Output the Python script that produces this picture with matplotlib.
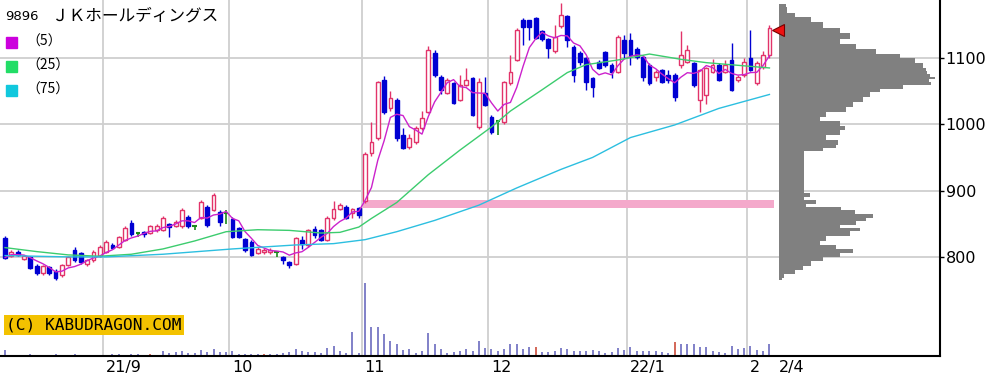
import matplotlib
matplotlib.use('Agg')
import matplotlib.pyplot as plt
from matplotlib.patches import Rectangle
import numpy as np
import pandas as pd

# daily candles, 2021-08-10 .. 2022-02-04 (trading days), yen
opens = [828, 802, 808, 797, 800, 787, 775, 784, 779, 772,
         788, 810, 806, 789, 795, 802, 808, 818, 815, 826,
         851, 836, 838, 836, 840, 841, 850, 847, 846, 860,
         846, 859, 876, 871, 868, 866, 857, 843, 827, 823,
         806, 807, 807, 807, 800, 792, 790, 826, 818, 842,
         840, 826, 858, 872, 876, 866, 874, 884, 957, 979,
         1067, 1025, 1037, 984, 966, 973, 994, 1019, 1107, 1072,
         1047, 1062, 1037, 1060, 1070, 996, 1047, 1011, 1005, 1003,
         1062, 1097, 1157, 1157, 1160, 1140, 1128, 1110, 1148, 1163,
         1117, 1107, 1100, 1070, 1094, 1109, 1090, 1079, 1127, 1127,
         1113, 1102, 1090, 1072, 1082, 1075, 1075, 1089, 1094, 1092,
         1037, 1044, 1079, 1090, 1079, 1097, 1067, 1074, 1100, 1062,
         1086, 1104]
highs = [832, 810, 810, 803, 802, 790, 788, 786, 781, 790,
         802, 815, 808, 797, 810, 818, 826, 821, 832, 846,
         856, 837, 839, 848, 849, 862, 851, 855, 873, 863,
         848, 886, 879, 896, 870, 870, 860, 845, 829, 825,
         815, 814, 814, 809, 802, 794, 830, 832, 842, 846,
         842, 862, 885, 882, 878, 874, 876, 958, 1004, 1066,
         1073, 1050, 1040, 995, 985, 998, 1020, 1118, 1112, 1074,
         1070, 1064, 1075, 1085, 1072, 1070, 1072, 1014, 1006, 1066,
         1105, 1145, 1160, 1158, 1162, 1142, 1130, 1150, 1183, 1165,
         1119, 1110, 1102, 1072, 1097, 1111, 1092, 1134, 1135, 1137,
         1116, 1104, 1092, 1082, 1084, 1082, 1077, 1140, 1120, 1094,
         1084, 1087, 1098, 1092, 1097, 1122, 1075, 1100, 1142, 1095,
         1110, 1150]
lows = [797, 800, 801, 795, 781, 772, 773, 773, 765, 770,
        786, 793, 790, 786, 793, 800, 806, 812, 813, 824,
        832, 830, 830, 834, 837, 839, 830, 845, 844, 844,
        840, 857, 845, 869, 846, 850, 828, 828, 808, 801,
        804, 805, 805, 800, 790, 783, 788, 812, 815, 829,
        824, 824, 856, 870, 857, 858, 858, 882, 952, 976,
        1015, 1020, 975, 962, 963, 971, 992, 1017, 1072, 1045,
        1045, 1030, 1035, 1058, 1012, 993, 1027, 985, 984, 1000,
        1060, 1095, 1120, 1127, 1128, 1126, 1100, 1108, 1146, 1117,
        1064, 1090, 1052, 1041, 1083, 1087, 1070, 1077, 1100, 1090,
        1099, 1065, 1060, 1066, 1062, 1063, 1035, 1085, 1092, 1057,
        1019, 1030, 1077, 1065, 1077, 1050, 1064, 1072, 1080, 1060,
        1084, 1100]
closes = [799, 808, 803, 801, 783, 775, 786, 775, 768, 788,
          800, 796, 793, 795, 808, 815, 822, 814, 830, 843,
          834, 836, 834, 846, 846, 859, 845, 852, 870, 846,
          846, 883, 848, 893, 853, 866, 830, 830, 811, 803,
          812, 811, 811, 807, 796, 788, 828, 820, 840, 833,
          826, 858, 872, 878, 859, 872, 863, 955, 974, 1064,
          1019, 1040, 979, 964, 980, 994, 1009, 1112, 1074, 1052,
          1067, 1032, 1059, 1067, 1014, 1064, 1029, 988, 1005, 1064,
          1079, 1142, 1147, 1147, 1130, 1128, 1115, 1132, 1165, 1127,
          1074, 1094, 1064, 1056, 1085, 1089, 1079, 1132, 1107, 1105,
          1101, 1072, 1062, 1079, 1064, 1067, 1041, 1105, 1112, 1059,
          1082, 1085, 1090, 1067, 1090, 1052, 1072, 1094, 1082, 1092,
          1104, 1145]
volumes = [60, 15, 15, 15, 20, 15, 15, 15, 20, 15,
           15, 20, 15, 15, 15, 15, 15, 20, 20, 15,
           20, 20, 15, 20, 15, 50, 30, 40, 50, 30,
           30, 60, 40, 70, 40, 40, 50, 20, 20, 20,
           20, 20, 20, 20, 30, 40, 70, 50, 40, 40,
           30, 80, 100, 50, 30, 240, 30, 730, 290, 290,
           220, 150, 120, 60, 70, 30, 50, 230, 120, 70,
           30, 40, 50, 70, 50, 150, 80, 70, 50, 70,
           120, 120, 70, 90, 90, 40, 40, 50, 80, 70,
           50, 50, 50, 60, 50, 30, 40, 80, 60, 90,
           50, 50, 50, 50, 40, 30, 140, 120, 120, 120,
           90, 90, 50, 40, 30, 100, 70, 80, 100, 60,
           50, 120]
red_volume_days = [23, 41, 84, 106]

# moving averages (day index, yen)
ma25_day = [0, 5, 10, 15, 20, 25, 30, 35, 40, 45, 50, 53, 56, 58, 62, 67, 72,
            77, 80, 85, 89, 92, 97, 102, 107, 111, 116, 121]
ma25_val = [814, 808, 803, 801, 804, 812, 824, 838, 841, 840, 836, 837, 845,
            858, 882, 924, 961, 996, 1020, 1052, 1078, 1090, 1097, 1106, 1098,
            1093, 1089, 1085]
ma75_day = [0, 10, 16, 25, 36, 46, 52, 57, 62, 68, 75, 81, 88, 93, 99, 106,
            113, 121]
ma75_val = [802, 800, 800, 804, 812, 818, 820, 826, 838, 855, 878, 904, 932,
            950, 980, 999, 1024, 1045]

month_labels = ['21/9', '10', '11', '12', '22/1', '2']
month_start = [16, 36, 57, 77, 99, 118]
last_label = '2/4'

# price-by-volume profile on the right
profile_price = [765, 770, 777, 783, 791, 798, 803, 808, 815, 821, 828, 836,
                 841, 845, 851, 856, 861, 868, 873, 878, 883, 888, 893, 900,
                 910, 920, 930, 940, 950, 957, 961, 966, 973, 981, 988, 994,
                 1002, 1009, 1014, 1022, 1029, 1037, 1044, 1052, 1056, 1062,
                 1066, 1070, 1074, 1078, 1082, 1089, 1097, 1102, 1109, 1117,
                 1124, 1132, 1142, 1150, 1160, 1165, 1172, 1182]
profile_vol = [3, 5, 16, 24, 32, 44, 61, 74, 57, 41, 47, 71,
               81, 61, 77, 87, 94, 76, 62, 27, 37, 25, 31, 25,
               25, 25, 25, 25, 25, 25, 44, 57, 59, 47, 61, 66,
               61, 41, 47, 67, 74, 84, 91, 101, 124, 152,
               150, 156, 151, 148, 147, 144, 136, 121, 97, 77,
               61, 71, 61, 44, 32, 16, 8, 7]

band_price = 880
band_start = 57

up_col = '#e2336a'
down_col = '#0000d2'
doji_col = '#1a8a1a'
grid_col = '#cfcfcf'

df = pd.DataFrame({'open': opens, 'high': highs, 'low': lows, 'close': closes})
n = len(df)
x = np.arange(n)
ma5 = df['close'].rolling(5, min_periods=1).mean()

fig = plt.figure(figsize=(10.08, 3.82), dpi=100)
ax = fig.add_axes([0, 26 / 382, 940 / 1008, 356 / 382])
axv = ax.twinx()
ax.set_zorder(2)
axv.set_zorder(1)
ax.patch.set_visible(False)

ax.set_xlim(-0.8, 148)
ax.set_ylim(650.5, 1187.5)

# grid
for h in [800, 900, 1000, 1100]:
    ax.axhline(h, color=grid_col, lw=1.3, zorder=0)
for m in month_start:
    ax.axvline(m - 0.5, color=grid_col, lw=1.3, zorder=0)

# volume
vcols = ['#d05a4a' if i in red_volume_days else '#7676c4' for i in range(n)]
axv.vlines(x, 0, volumes, colors=vcols, lw=1.3)
axv.set_ylim(0, max(volumes) * 356 / 73)
axv.set_yticks([])
for s in axv.spines.values():
    s.set_visible(False)

# support band
ax.fill_between([band_start - 0.3, n - 0.2], band_price - 6, band_price + 6,
                color='#f4a9cb', lw=0, zorder=1)

# volume profile
prof_left = 122.5
pw = np.array(profile_vol) / max(profile_vol) * 24.7
ax.fill_betweenx(profile_price, prof_left, prof_left + pw, step='mid',
                 color='#808080', lw=0, zorder=1)

# candles
up = df['close'] > df['open']
down = df['close'] < df['open']
doji = df['close'] == df['open']
ax.vlines(x[up], df['low'][up], df['high'][up], color=up_col, lw=1, zorder=3)
ax.bar(x[up], (df['close'] - df['open'])[up], bottom=df['open'][up], width=0.6,
       facecolor='white', edgecolor=up_col, lw=1, zorder=4)
ax.vlines(x[down], df['low'][down], df['high'][down], color=down_col, lw=1, zorder=3)
ax.bar(x[down], (df['close'] - df['open'])[down], bottom=df['open'][down], width=0.6,
       facecolor=down_col, edgecolor=down_col, lw=1, zorder=4)
ax.vlines(x[doji], df['low'][doji], df['high'][doji], color=doji_col, lw=1.2, zorder=3)
ax.hlines(df['close'][doji], x[doji] - 0.35, x[doji] + 0.35, color=doji_col, lw=1.5, zorder=4)

# moving averages
ax.plot(x, ma5, color='#cc22cc', lw=1, zorder=5)
ax.plot(ma25_day, ma25_val, color='#3ccc6e', lw=1, zorder=5)
ax.plot(ma75_day, ma75_val, color='#2cbfe0', lw=1, zorder=5)

# last price marker
ax.plot(n + 0.3, closes[-1] - 2, marker='<', ms=8, mfc='#ee1111', mec='#770000',
        mew=0.8, zorder=6)

# axes
ax.set_yticks([800, 900, 1000, 1100])
ax.yaxis.tick_right()
ax.tick_params(axis='y', direction='out', length=3, width=1, pad=1, labelsize=11.5)
ax.set_xticks([])
for s in ['top', 'left']:
    ax.spines[s].set_visible(False)
for s in ['right', 'bottom']:
    ax.spines[s].set_linewidth(1.5)

tr = ax.get_xaxis_transform()
for m, lab in zip(month_start, month_labels):
    ax.text(m - 0.1, -0.032, lab, transform=tr, ha='left', va='center', fontsize=11.5)
ax.text(n + 0.5, -0.032, last_label, transform=tr, ha='left', va='center', fontsize=11.5)

# title / legend
fig.text(5 / 1008, 1 - 16 / 382, '9896', fontsize=9.5, va='center')
fig.text(52 / 1008, 1 - 16 / 382, 'ＪＫホールディングス', fontsize=12, va='center',
         family=['Noto Sans CJK JP', 'DejaVu Sans'])
for yy, col, lab in [(42, '#cc00dd', '（5）'), (66, '#22dd66', '（25）'),
                     (90, '#11c8dd', '（75）')]:
    fig.add_artist(Rectangle((6 / 1008, 1 - (yy + 6) / 382), 11 / 1008, 11 / 382,
                             transform=fig.transFigure, color=col))
    fig.text(26 / 1008, 1 - yy / 382, lab, fontsize=10, va='center',
             family=['Noto Sans CJK JP', 'DejaVu Sans'])

fig.text(6 / 1008, 1 - 325 / 382, '(C) KABUDRAGON.COM', family='DejaVu Sans Mono',
         fontsize=11.6, va='center',
         bbox=dict(boxstyle='square,pad=0.15', fc='#f3c200', ec='none'))

fig.savefig('out.png', dpi=100)
